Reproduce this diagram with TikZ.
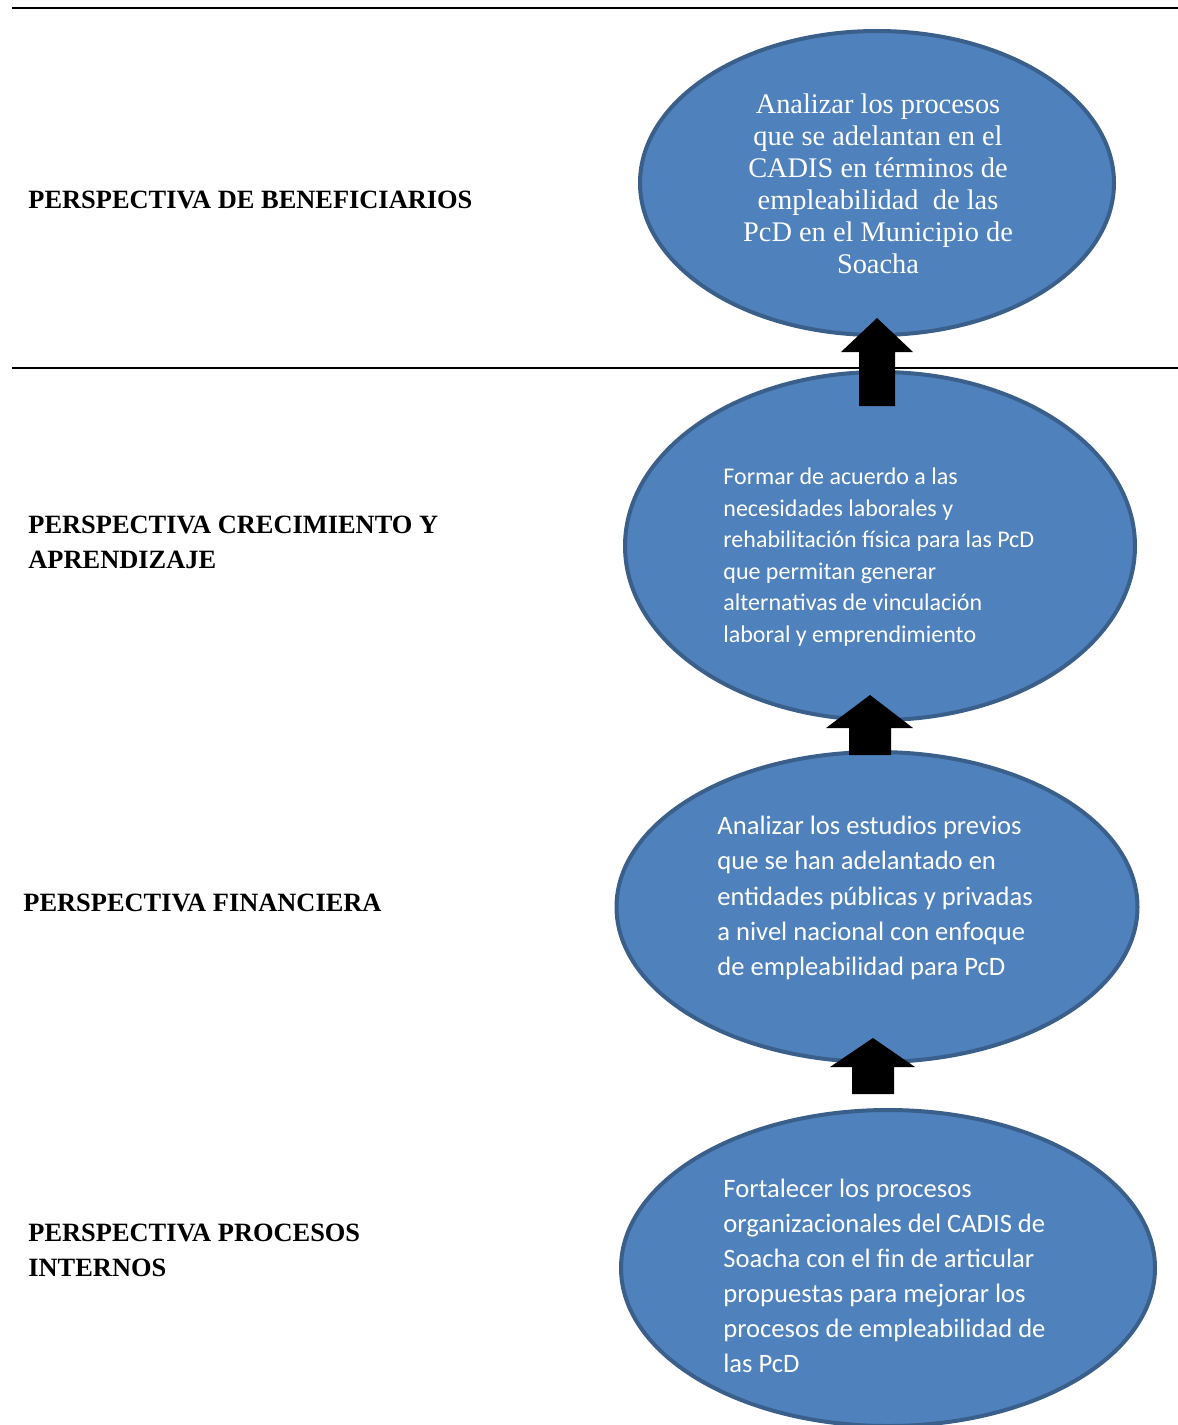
\documentclass[tikz,border=0pt]{standalone}
\usepackage{fontspec}
\setmainfont{Liberation Serif}
\newfontfamily\calfont{Carlito}
\usetikzlibrary{shapes.geometric}
\definecolor{elfill}{HTML}{4F81BD}
\definecolor{eldraw}{HTML}{3A5F8B}
\tikzset{
  goal/.style={ellipse, fill=elfill, draw=eldraw, line width=2pt, inner sep=0pt},
  perlabel/.style={anchor=west, align=left, font=\fontsize{13.2}{17.5}\selectfont\bfseries, inner sep=0pt},
  goaltext/.style={text=white, inner sep=0pt},
  rule/.style={line width=1pt, black},
  blockarrow/.style={fill=black}
}
\begin{document}
\begin{tikzpicture}[x=0.5pt,y=-0.5pt]
\useasboundingbox (0,0) rectangle (1178,1425);
% separators
\coordinate (l1a) at (12,8); \coordinate (l1b) at (1178,8);
\coordinate (l2a) at (12,368); \coordinate (l2b) at (1178,368);
\draw[rule] (l1a) -- (l1b);
\draw[rule] (l2a) -- (l2b);
% ellipses (sizes in pt = px/2)
\node[goal, minimum width=237pt, minimum height=152pt] (e1) at (877,183) {};
\node[goal, minimum width=255pt, minimum height=174pt] (e2) at (880,546) {};
\node[goal, minimum width=260.5pt, minimum height=155pt] (e3) at (877,907) {};
\node[goal, minimum width=267pt, minimum height=158pt] (e4) at (888,1268) {};
% texts
\node[goaltext, align=center, font=\fontsize{14.2}{16}\selectfont] (t1) at (878,184)
 {Analizar los procesos\\que se adelantan en el\\CADIS en términos de\\empleabilidad\ \ de las\\PcD en el Municipio de\\Soacha};
\node[goaltext, anchor=west, align=left, font=\calfont\fontsize{12}{15.8}\selectfont] (t2) at (723,557)
 {Formar de acuerdo a las\\necesidades laborales y\\rehabilitación física para las PcD\\que permitan generar\\alternativas de vinculación\\laboral y emprendimiento};
\node[goaltext, anchor=west, align=left, font=\calfont\fontsize{13.3}{17.6}\selectfont] (t3) at (717,898)
 {Analizar los estudios previos\\que se han adelantado en\\entidades públicas y privadas\\a nivel nacional con enfoque\\de empleabilidad para PcD};
\node[goaltext, anchor=west, align=left, font=\calfont\fontsize{13.3}{17.5}\selectfont] (t4) at (723,1276)
 {Fortalecer los procesos\\organizacionales del CADIS de\\Soacha con el fin de articular\\propuestas para mejorar los\\procesos de empleabilidad de\\las PcD};
% labels
\node[perlabel] (p1) at (28,200) {PERSPECTIVA DE BENEFICIARIOS};
\node[perlabel] (p2) at (28,542) {PERSPECTIVA CRECIMIENTO Y\\APRENDIZAJE};
\node[perlabel] (p3) at (23,903) {PERSPECTIVA FINANCIERA};
\node[perlabel] (p4) at (28,1250) {PERSPECTIVA PROCESOS\\INTERNOS};
% block arrows (upward)
\fill[blockarrow] (877,318) -- (913,352) -- (895,352) -- (895,406) -- (859,406) -- (859,352) -- (841,352) -- cycle;
\fill[blockarrow] (870,695) -- (913,728) -- (891,728) -- (891,755) -- (849,755) -- (849,728) -- (826,728) -- cycle;
\fill[blockarrow] (873,1038) -- (915,1067) -- (894,1067) -- (894,1094) -- (852,1094) -- (852,1067) -- (830,1067) -- cycle;
\end{tikzpicture}
\end{document}
